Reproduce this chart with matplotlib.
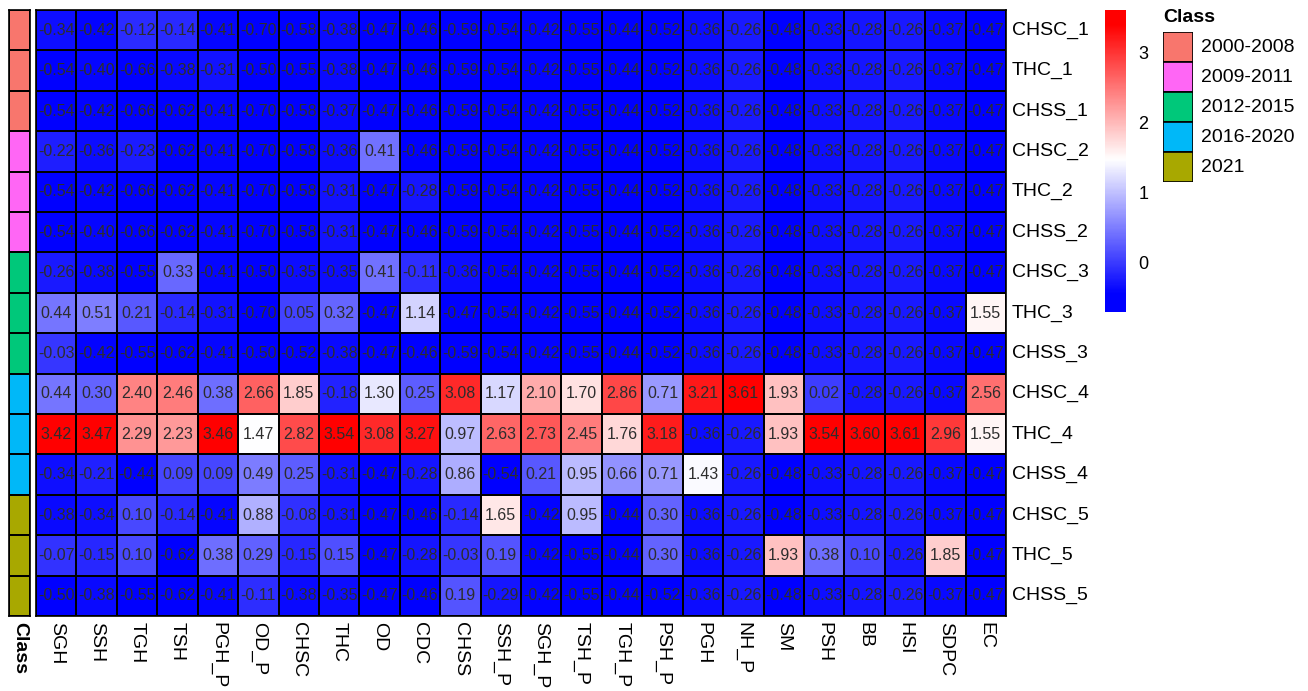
import numpy as np
import matplotlib
matplotlib.use("Agg")
import matplotlib.pyplot as plt
from matplotlib.colors import LinearSegmentedColormap, ListedColormap, Normalize
from matplotlib.patches import Rectangle

plt.rcParams['font.family'] = ['Liberation Sans', 'DejaVu Sans']

row_labels = ["CHSC_1", "THC_1", "CHSS_1", "CHSC_2", "THC_2", "CHSS_2",
              "CHSC_3", "THC_3", "CHSS_3", "CHSC_4", "THC_4", "CHSS_4",
              "CHSC_5", "THC_5", "CHSS_5"]
col_labels = ["SGH", "SSH", "TGH", "TSH", "PGH_P", "OD_P", "CHSC", "THC", "OD",
              "CDC", "CHSS", "SSH_P", "SGH_P", "TSH_P", "TGH_P", "PSH_P", "PGH",
              "NH_P", "SM", "PSH", "BB", "HSI", "SDPC", "EC"]

class_names = ["2000-2008", "2009-2011", "2012-2015", "2016-2020", "2021"]
class_colors = ["#F8766D", "#FF66F5", "#00C87A", "#00B8F8", "#A8A800"]
row_class = [0, 0, 0, 1, 1, 1, 2, 2, 2, 3, 3, 3, 4, 4, 4]

values = np.array([
    [-0.34, -0.42, -0.12, -0.14, -0.41, -0.70, -0.58, -0.38, -0.47, -0.46, -0.59, -0.54,
     -0.42, -0.55, -0.44, -0.52, -0.36, -0.26, -0.48, -0.33, -0.28, -0.26, -0.37, -0.47],
    [-0.54, -0.40, -0.66, -0.38, -0.31, -0.50, -0.55, -0.38, -0.47, -0.46, -0.59, -0.54,
     -0.42, -0.55, -0.44, -0.52, -0.36, -0.26, -0.48, -0.33, -0.28, -0.26, -0.37, -0.47],
    [-0.54, -0.42, -0.66, -0.62, -0.41, -0.70, -0.58, -0.37, -0.47, -0.46, -0.59, -0.54,
     -0.42, -0.55, -0.44, -0.52, -0.36, -0.26, -0.48, -0.33, -0.28, -0.26, -0.37, -0.47],
    [-0.22, -0.36, -0.23, -0.62, -0.41, -0.70, -0.58, -0.36, 0.41, -0.46, -0.59, -0.54,
     -0.42, -0.55, -0.44, -0.52, -0.36, -0.26, -0.48, -0.33, -0.28, -0.26, -0.37, -0.47],
    [-0.54, -0.42, -0.66, -0.62, -0.41, -0.70, -0.58, -0.31, -0.47, -0.28, -0.59, -0.54,
     -0.42, -0.55, -0.44, -0.52, -0.36, -0.26, -0.48, -0.33, -0.28, -0.26, -0.37, -0.47],
    [-0.54, -0.40, -0.66, -0.62, -0.41, -0.70, -0.58, -0.31, -0.47, -0.46, -0.59, -0.54,
     -0.42, -0.55, -0.44, -0.52, -0.36, -0.26, -0.48, -0.33, -0.28, -0.26, -0.37, -0.47],
    [-0.26, -0.38, -0.55, 0.33, -0.41, -0.50, -0.35, -0.35, 0.41, -0.11, -0.36, -0.54,
     -0.42, -0.55, -0.44, -0.52, -0.36, -0.26, -0.48, -0.33, -0.28, -0.26, -0.37, -0.47],
    [0.44, 0.51, 0.21, -0.14, -0.31, -0.70, 0.05, 0.32, -0.47, 1.14, -0.47, -0.54,
     -0.42, -0.55, -0.44, -0.52, -0.36, -0.26, -0.48, -0.33, -0.28, -0.26, -0.37, 1.55],
    [-0.03, -0.42, -0.55, -0.62, -0.41, -0.50, -0.52, -0.38, -0.47, -0.46, -0.59, -0.54,
     -0.42, -0.55, -0.44, -0.52, -0.36, -0.26, -0.48, -0.33, -0.28, -0.26, -0.37, -0.47],
    [0.44, 0.30, 2.40, 2.46, 0.38, 2.66, 1.85, -0.18, 1.30, 0.25, 3.08, 1.17,
     2.10, 1.70, 2.86, 0.71, 3.21, 3.61, 1.93, 0.02, -0.28, -0.26, -0.37, 2.56],
    [3.42, 3.47, 2.29, 2.23, 3.46, 1.47, 2.82, 3.54, 3.08, 3.27, 0.97, 2.63,
     2.73, 2.45, 1.76, 3.18, -0.36, -0.26, 1.93, 3.54, 3.60, 3.61, 2.96, 1.55],
    [-0.34, -0.21, -0.44, 0.09, 0.09, 0.49, 0.25, -0.31, -0.47, -0.28, 0.86, -0.54,
     0.21, 0.95, 0.66, 0.71, 1.43, -0.26, -0.48, -0.33, -0.28, -0.26, -0.37, -0.47],
    [-0.38, -0.34, 0.10, -0.14, -0.41, 0.88, -0.08, -0.31, -0.47, -0.46, -0.14, 1.65,
     -0.42, 0.95, -0.44, 0.30, -0.36, -0.26, -0.48, -0.33, -0.28, -0.26, -0.37, -0.47],
    [-0.07, -0.15, 0.10, -0.62, 0.38, 0.29, -0.15, 0.15, -0.47, -0.28, -0.03, 0.19,
     -0.42, -0.55, -0.44, 0.30, -0.36, -0.26, 1.93, 0.38, 0.10, -0.26, 1.85, -0.47],
    [-0.50, -0.38, -0.55, -0.62, -0.41, -0.11, -0.38, -0.35, -0.47, -0.46, 0.19, -0.29,
     -0.42, -0.55, -0.44, -0.52, -0.36, -0.26, -0.48, -0.33, -0.28, -0.26, -0.37, -0.47],
])

W, H = 1308, 691
fig = plt.figure(figsize=(W / 100, H / 100), dpi=100)


def px_axes(x0, y0, x1, y1):
    """Axes placed by pixel box (origin at top-left)."""
    return fig.add_axes([x0 / W, 1 - y1 / H, (x1 - x0) / W, (y1 - y0) / H])


vmin, vmax = values.min(), values.max()
norm = Normalize(vmin=vmin, vmax=vmax)
# blue -> white -> red ramp, saturating a little before both ends of the range
blue_end, white_at, red_end = -0.45, 1.47, 3.40
pos = [(v - vmin) / (vmax - vmin) for v in (blue_end, white_at, red_end)]
cmap = LinearSegmentedColormap.from_list(
    "bwr_ph",
    [(0.0, "#0000FF"), (pos[0], "#0000FF"), (pos[1], "#FFFFFF"),
     (pos[2], "#FF0000"), (1.0, "#FF0000")],
    N=256)

nr, nc = values.shape
hm_x0, hm_y0, hm_x1, hm_y1 = 36, 10, 1006, 616

# main heatmap
ax = px_axes(hm_x0, hm_y0, hm_x1, hm_y1)
ax.pcolormesh(np.arange(nc + 1), np.arange(nr + 1), values, cmap=cmap, norm=norm,
              edgecolors="black", linewidth=1.2)
ax.set_xlim(0, nc)
ax.set_ylim(nr, 0)
ax.set_xticks([])
ax.set_yticks([])
for s in ax.spines.values():
    s.set_linewidth(1.2)
for i in range(nr):
    for j in range(nc):
        ax.text(j + 0.5, i + 0.5, f"{values[i, j]:.2f}", ha="center", va="center",
                fontsize=11.5, color="#2d2d2d")

# row labels on the right
for i, lab in enumerate(row_labels):
    ax.text(nc + 0.15, i + 0.5, lab, ha="left", va="center", fontsize=14,
            color="black", clip_on=False)

# column labels below, reading downward
for j, lab in enumerate(col_labels):
    ax.text(j + 0.5, nr + 0.14, lab, ha="center", va="top", rotation=270,
            fontsize=14, color="black", clip_on=False)

# class annotation column
ax_c = px_axes(9, hm_y0, 30, hm_y1)
ax_c.pcolormesh(np.arange(2), np.arange(nr + 1), np.array(row_class)[:, None],
                cmap=ListedColormap(class_colors), vmin=-0.5, vmax=4.5,
                edgecolors="black", linewidth=1.2)
ax_c.set_xlim(0, 1)
ax_c.set_ylim(nr, 0)
ax_c.set_xticks([])
ax_c.set_yticks([])
for s in ax_c.spines.values():
    s.set_linewidth(1.2)
ax_c.text(0.5, nr + 0.14, "Class", ha="center", va="top", rotation=270,
          fontsize=14, fontweight="bold", clip_on=False)

# colour bar
ax_cb = px_axes(1105, 10, 1126, 312)
grad = np.linspace(vmin, vmax, 300)[:, None]
ax_cb.imshow(grad, aspect="auto", cmap=cmap, norm=norm, origin="lower",
             extent=[0, 1, vmin, vmax])
ax_cb.set_xticks([])
ax_cb.yaxis.tick_right()
ax_cb.set_yticks([0, 1, 2, 3])
ax_cb.tick_params(axis="y", length=0, labelsize=13, pad=9)
for s in ax_cb.spines.values():
    s.set_visible(False)

# class legend
fig.text(1163 / W, 1 - 18 / H, "Class", ha="left", va="center", fontsize=14,
         fontweight="bold")
ax_lg = px_axes(1163, 32, 1193, 182)
for k, col in enumerate(class_colors):
    ax_lg.add_patch(Rectangle((0, k), 1, 1, facecolor=col, edgecolor="black", linewidth=1.2))
    ax_lg.text(1.25, k + 0.5, class_names[k], ha="left", va="center", fontsize=14,
               clip_on=False)
ax_lg.set_xlim(0, 1)
ax_lg.set_ylim(len(class_colors), 0)
ax_lg.axis("off")

fig.savefig("out.png", dpi=100)
